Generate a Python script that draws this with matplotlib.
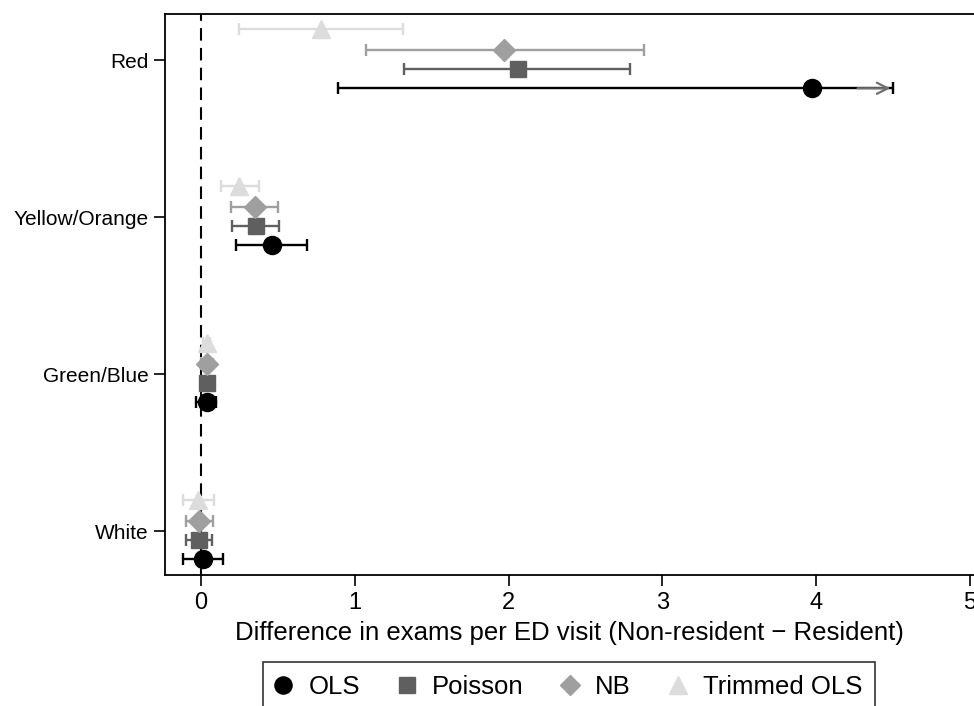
import matplotlib.pyplot as plt
import numpy as np

plt.rcParams['font.family'] = ['Liberation Sans', 'DejaVu Sans']

categories = ['White', 'Green/Blue', 'Yellow/Orange', 'Red']
models = ['OLS', 'Poisson', 'NB', 'Trimmed OLS']

# point estimates, order: White, Green/Blue, Yellow/Orange, Red
est = {
    'OLS':         [0.01, 0.04, 0.46, 3.97],
    'Poisson':     [-0.013, 0.04, 0.355, 2.06],
    'NB':          [-0.015, 0.04, 0.35, 1.97],
    'Trimmed OLS': [-0.02, 0.037, 0.25, 0.78],
}
lo = {
    'OLS':         [-0.12, -0.03, 0.23, 0.89],
    'Poisson':     [-0.10, 0.00, 0.20, 1.32],
    'NB':          [-0.10, 0.00, 0.195, 1.07],
    'Trimmed OLS': [-0.12, 0.01, 0.13, 0.25],
}
hi = {
    'OLS':         [0.145, 0.10, 0.69, 4.5],
    'Poisson':     [0.073, 0.08, 0.51, 2.79],
    'NB':          [0.076, 0.08, 0.50, 2.88],
    'Trimmed OLS': [0.085, 0.06, 0.38, 1.31],
}

colors = {'OLS': 'black', 'Poisson': '#5f5f5f', 'NB': '#9f9f9f', 'Trimmed OLS': '#dcdcdc'}
markers = {'OLS': 'o', 'Poisson': 's', 'NB': 'D', 'Trimmed OLS': '^'}
msizes = {'OLS': 13, 'Poisson': 12, 'NB': 11, 'Trimmed OLS': 13}
offsets = {'OLS': -0.18, 'Poisson': -0.06, 'NB': 0.065, 'Trimmed OLS': 0.2}

fig = plt.figure(figsize=(9.74, 7.06), dpi=100)
ax = fig.add_axes([165/974, 1-575/706, 1-165/974, (575-14)/706])

ypos = np.arange(len(categories))
ax.axvline(0, color='black', ls=(0, (6, 3.5)), lw=1.5, zorder=1)

handles = []
for m in models:
    x = np.array(est[m])
    l = np.array(lo[m])
    h = np.array(hi[m])
    y = ypos + offsets[m]
    ax.errorbar(x, y, xerr=[x - l, h - x], fmt='none', ecolor=colors[m],
                elinewidth=1.7, capsize=4, capthick=1.7, zorder=2)
    pt, = ax.plot(x, y, ls='none', marker=markers[m], ms=msizes[m],
                  color=colors[m], mec=colors[m], zorder=3, label=m)
    handles.append(pt)

# truncated upper CI for Red OLS
ax.annotate('', xy=(hi['OLS'][3], 3 + offsets['OLS']),
            xytext=(hi['OLS'][3] - 0.25, 3 + offsets['OLS']),
            arrowprops=dict(arrowstyle='->', color='#707070', lw=1.6,
                            mutation_scale=20), zorder=2)

ax.set_xlim(-0.234, 5.025)
ax.set_ylim(-0.28, 3.293)
ax.set_yticks(ypos)
ax.set_yticklabels(categories, fontsize=15)
ax.set_xticks(range(6))
ax.tick_params(axis='x', labelsize=17, length=8, width=1.2, direction='out', pad=4)
ax.tick_params(axis='y', length=8, width=1.2, direction='out')
ax.set_xlabel('Difference in exams per ED visit (Non-resident \u2212 Resident)',
              fontsize=18.5, labelpad=5)
ax.spines['right'].set_visible(False)
for s in ['top', 'bottom', 'left']:
    ax.spines[s].set_linewidth(1.3)

leg = fig.legend(handles=handles, labels=models, loc='upper center', ncol=4,
                 bbox_to_anchor=(569/974, 1-662/706), fontsize=18.5, frameon=True,
                 fancybox=False, edgecolor='black', handlelength=0.6,
                 handletextpad=0.67, columnspacing=1.53, markerscale=0.95,
                 borderpad=0.5, borderaxespad=0)
leg.get_frame().set_linewidth(1.2)

fig.savefig('out.png', dpi=100)
